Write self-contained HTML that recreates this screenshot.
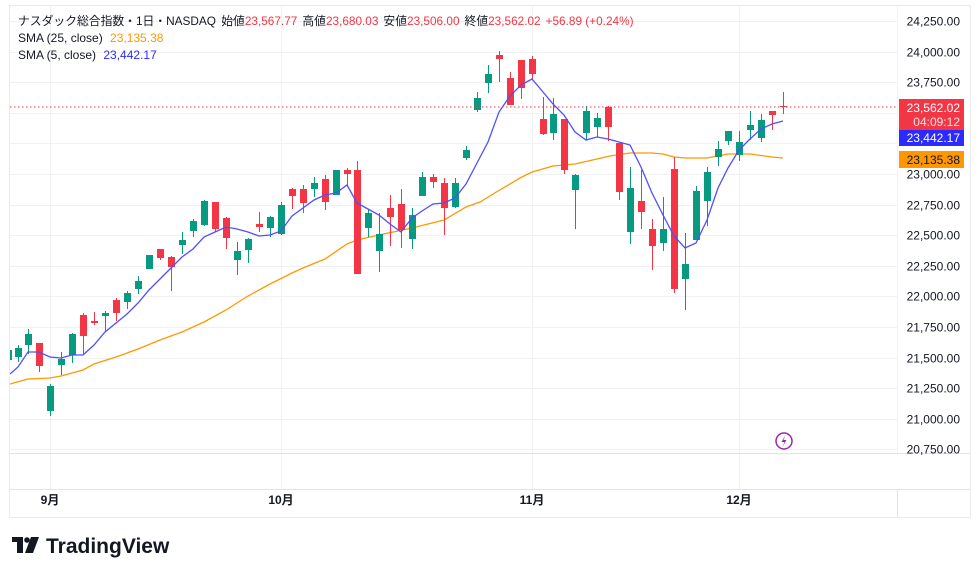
<!DOCTYPE html>
<html><head><meta charset="utf-8">
<style>
html,body{margin:0;padding:0;background:#fff;width:980px;height:575px;overflow:hidden}
body{font-family:"Liberation Sans","Noto Sans CJK JP",sans-serif;}
svg text{font-family:"Liberation Sans","Noto Sans CJK JP",sans-serif;}
</style></head><body>
<svg id="c" width="980" height="575" xmlns="http://www.w3.org/2000/svg">
<defs><clipPath id="cp"><rect x="10" y="6" width="887" height="447"/></clipPath></defs>
<rect x="9.5" y="5.5" width="961" height="512" fill="#fff" stroke="#e9eaee"/>
<g id="grid" stroke="#f0f1f3" stroke-width="1"></g>
<line x1="10" y1="453.5" x2="970" y2="453.5" stroke="#e0e3eb"/>
<line x1="10" y1="489.5" x2="970" y2="489.5" stroke="#e0e3eb"/>
<line x1="897.5" y1="6" x2="897.5" y2="453" stroke="#f0f1f3"/>
<line x1="897.5" y1="489" x2="897.5" y2="517" stroke="#e0e3eb"/>
<g id="axis" font-size="12" fill="#131722" text-anchor="end"></g>
<g clip-path="url(#cp)">
<polyline id="s25" fill="none" stroke="#ff9800" stroke-width="1.3"/>
<g id="cand"></g>
<polyline id="s5" fill="none" stroke="#4f4fff" stroke-width="1.3"/>
</g>
<line x1="10" y1="107" x2="897" y2="107" stroke="#f23645" stroke-dasharray="1.5,2.5"/>
<rect x="899" y="99" width="65" height="31" fill="#f23645"/>
<text x="960" y="112" font-size="12" fill="#fff" text-anchor="end">23,562.02</text>
<text x="960" y="126" font-size="12" fill="#fde0e3" text-anchor="end">04:09:12</text>
<rect x="899" y="130" width="65" height="16" fill="#2b2bff"/>
<text x="960" y="142" font-size="12" fill="#fff" text-anchor="end">23,442.17</text>
<rect x="899" y="151" width="65" height="17" fill="#ff9800"/>
<text x="960" y="164" font-size="12" fill="#131722" text-anchor="end">23,135.38</text>
<circle cx="784" cy="441" r="8" fill="#fff" stroke="#9c27b0" stroke-width="1.5"/>
<path d="M785.5 435 L781.5 442 L784.5 442 L782.5 447 L786.5 440 L783.5 440 Z" fill="#9c27b0"/>
<g font-size="12" fill="#131722" font-weight="bold" text-anchor="middle">
<text x="50" y="504">9月</text><text x="281" y="504">10月</text><text x="532" y="504">11月</text><text x="739" y="504">12月</text>
</g>
<text x="18" y="25" font-size="11.8" fill="#131722">ナスダック総合指数・1日・NASDAQ <tspan dx="2">始値</tspan><tspan fill="#f23645">23,567.77</tspan><tspan dx="5">高値</tspan><tspan fill="#f23645">23,680.03</tspan><tspan dx="5">安値</tspan><tspan fill="#f23645">23,506.00</tspan><tspan dx="5">終値</tspan><tspan fill="#f23645">23,562.02</tspan><tspan dx="5" fill="#f23645">+56.89 (+0.24%)</tspan></text>
<text x="18" y="42" font-size="12" fill="#131722">SMA (25, close) <tspan dx="4" fill="#ff9800">23,135.38</tspan></text>
<text x="18" y="59" font-size="12" fill="#131722">SMA (5, close) <tspan dx="4" fill="#2b2bff">23,442.17</tspan></text>
<g transform="translate(12,537)" fill="#131722">
<path d="M0 0 H11 V16 H5 V5 H0 Z"/><circle cx="15" cy="3" r="2.8"/><path d="M19 0 H27 L21 16 H13 Z"/>
</g>
<text x="46" y="553" font-size="21" font-weight="bold" fill="#131722">TradingView</text>
</svg>
<script>
var NS="http://www.w3.org/2000/svg";
function el(p,t,a){var e=document.createElementNS(NS,t);for(var k in a)e.setAttribute(k,a[k]);p.appendChild(e);return e;}
var g=document.getElementById('grid'),ax=document.getElementById('axis');
var labs=["24,250.00","24,000.00","23,750.00","23,500.00","23,250.00","23,000.00","22,750.00","22,500.00","22,250.00","22,000.00","21,750.00","21,500.00","21,250.00","21,000.00","20,750.00"];
for(var i=0;i<15;i++){var y=Math.round(21+i*30.6)+0.5;el(g,'line',{x1:10,y1:y,x2:897,y2:y});
 if(labs[i]!="23,500.00"&&labs[i]!="23,250.00"){var t=el(ax,'text',{x:960,y:y+4});t.textContent=labs[i];}}
[50,281,532,739].forEach(function(x){el(g,'line',{x1:x+.5,y1:6,x2:x+.5,y2:453});el(g,'line',{x1:x+.5,y1:454,x2:x+.5,y2:489});});
var C=[[8,350,360,347,367,1],[18,348,357,345,362,1],[28,334,345,329,354,1],[39,343,366,343,372,0],[50,386,411,384,416,1],[61,359,365,352,375,1],[72,334,355,333,363,1],[83,315,336,313,355,0],[94,321,323,312,325,0],[105,313,316,311,332,1],[116,300,313,298,321,0],[127,293,302,291,309,1],[138,281,289,276,294,1],[149,255,269,255,269,1],[160,249,258,249,260,0],[171,257,267,256,291,0],[182,240,245,232,254,1],[193,221,231,219,237,1],[204,201,225,200,226,1],[215,202,229,202,232,0],[226,218,238,217,249,0],[237,251,260,242,275,1],[248,239,250,238,263,1],[259,224,227,212,232,0],[270,217,228,216,237,1],[281,205,234,202,235,1],[292,189,196,188,209,0],[303,189,203,185,213,0],[314,183,189,177,197,1],[325,179,202,175,210,0],[336,170,195,170,195,1],[347,170,174,168,187,0],[357,170,274,161,274,0],[368,213,228,210,237,1],[379,234,251,213,272,1],[390,208,217,195,246,0],[401,204,230,189,248,0],[412,215,239,208,249,1],[422,177,196,172,196,1],[433,177,182,174,188,0],[444,183,208,178,235,0],[455,183,207,178,208,1],[466,150,158,146,160,1],[477,98,110,92,112,1],[488,74,83,65,93,1],[499,55,59,51,82,0],[510,78,105,72,105,0],[521,60,88,60,99,0],[532,59,74,56,79,0],[543,119,134,97,135,0],[553,114,133,98,140,1],[564,119,170,119,174,0],[575,175,190,174,229,1],[586,111,133,106,140,1],[597,118,127,113,137,1],[608,107,127,106,141,0],[619,143,192,143,200,0],[630,188,232,167,244,1],[641,201,212,170,229,0],[652,229,246,219,270,0],[663,229,243,197,251,1],[674,169,289,157,293,0],[685,264,279,233,310,1],[696,191,240,186,240,1],[707,172,201,167,226,1],[718,149,157,141,166,1],[728,131,141,131,145,1],[739,142,155,131,161,1],[750,125,130,111,140,1],[761,120,138,114,142,1],[772,111,115,111,130,0],[783,106,107,92,114,0]];
var cg=document.getElementById('cand');
C.forEach(function(c){var col=c[5]?'#089981':'#f23645';
 el(cg,'rect',{x:c[0],y:c[3],width:1,height:c[4]-c[3],fill:col});
 var h=Math.max(1,c[2]-c[1]);el(cg,'rect',{x:c[0]-3,y:c[1],width:7,height:h,fill:col});});
var s5=[[10,374],[18,367],[28,352],[39,352],[50,357],[61,358],[72,355],[83,355],[94,345],[105,332],[116,323],[127,314],[138,303],[149,290],[160,279],[171,268],[182,257],[193,249],[204,237],[215,232],[226,227],[237,229],[248,232],[259,236],[270,235],[281,231],[292,216],[303,208],[314,200],[325,195],[336,193],[347,185],[357,203],[368,209],[379,215],[390,224],[401,232],[412,218],[422,211],[433,204],[444,203],[455,198],[466,184],[477,163],[488,142],[499,112],[510,96],[521,85],[532,79],[543,92],[553,104],[564,115],[575,132],[586,140],[597,137],[608,139],[619,142],[630,145],[641,167],[652,193],[663,215],[674,236],[685,248],[696,243],[707,220],[718,188],[728,168],[739,150],[750,139],[761,129],[772,124],[783,121]];
var s25=[[10,384],[28,379],[50,378],[61,376],[83,370],[94,364],[116,357],[138,349],[160,340],[182,332],[204,322],[226,310],[248,296],[270,284],[292,273],[303,268],[325,259],[347,244],[357,240],[379,235],[412,228],[444,220],[466,207],[480,202],[498,191],[520,178],[532,172],[553,166],[575,164],[597,159],[610,156],[630,153],[652,153],[663,154],[674,157],[685,158],[707,158],[728,154],[750,154],[772,157],[783,158]];
document.getElementById('s5').setAttribute('points',s5.map(function(p){return p.join(',')}).join(' '));
document.getElementById('s25').setAttribute('points',s25.map(function(p){return p.join(',')}).join(' '));
</script>
</body></html>
